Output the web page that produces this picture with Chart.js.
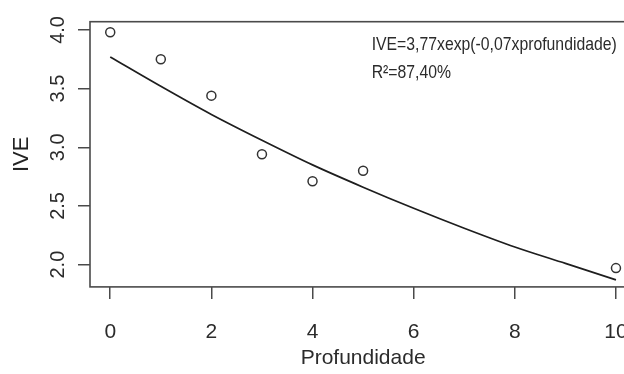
<!DOCTYPE html>
<html><head><meta charset="utf-8">
<script src="https://cdn.jsdelivr.net/npm/chart.js@4.4.1/dist/chart.umd.min.js"></script>
<style>
html,body{margin:0;padding:0;background:#fff;overflow:hidden}
#wrap{width:624px;height:374px;overflow:hidden;position:relative;background:#fff}
canvas{display:block}
</style></head><body>
<div id="wrap"><canvas id="c" width="660" height="374" style="width:660px;height:374px"></canvas></div>
<script>
// Observed points
const profundidade = [0, 1, 2, 3, 4, 5, 10];
const ive = [3.98, 3.75, 3.44, 2.94, 2.71, 2.80, 1.97];
// Fitted curve
const curveX = [0, 1, 2, 3, 4, 5, 6, 7, 8, 9, 10];
const curveY = [3.77, 3.52, 3.28, 3.06, 2.85, 2.66, 2.48, 2.31, 2.15, 2.01, 1.87];
// Tick labels
const xTicks = [0, 2, 4, 6, 8, 10];
const yTicks = [2.0, 2.5, 3.0, 3.5, 4.0];
// Texts
const xTitle = 'Profundidade';
const yTitle = 'IVE';
const eqLines = ['IVE=3,77xexp(-0,07xprofundidade)', 'R²=87,40%'];

const SANS = '"Liberation Sans", Arial, sans-serif';
const INK = '#2b2b2b';
const AXIS = '#4a4a4a';

const boxPlugin = {
  id: 'box',
  afterDatasetsDraw(chart) {
    const a = chart.chartArea, ctx = chart.ctx;
    ctx.save();
    ctx.strokeStyle = AXIS;
    ctx.lineWidth = 1.6;
    ctx.strokeRect(a.left, a.top, a.right - a.left, a.bottom - a.top);
    ctx.restore();
  }
};

const eqPlugin = {
  id: 'eq',
  afterDraw(chart) {
    const ctx = chart.ctx, xs = chart.scales.x, ys = chart.scales.y;
    const x0 = xs.getPixelForValue(5.17);
    const ya = [ys.getPixelForValue(3.833), ys.getPixelForValue(3.588)];
    ctx.save();
    ctx.fillStyle = INK;
    ctx.font = '19px ' + SANS;
    ctx.textBaseline = 'alphabetic';
    ctx.textAlign = 'left';
    eqLines.forEach((t, i) => {
      ctx.save();
      ctx.translate(x0, ya[i]);
      ctx.scale(0.83, 1);
      ctx.fillText(t, 0, 0);
      ctx.restore();
    });
    ctx.restore();
  }
};

new Chart(document.getElementById('c'), {
  type: 'scatter',
  data: {
    datasets: [
      {
        label: 'IVE',
        data: profundidade.map((p, i) => ({x: p, y: ive[i]})),
        pointStyle: 'circle',
        pointRadius: 4.5,
        pointBorderWidth: 1.5,
        pointBackgroundColor: 'rgba(0,0,0,0)',
        pointBorderColor: '#333',
        showLine: false,
        order: 1
      },
      {
        label: 'ajuste',
        data: curveX.map((p, i) => ({x: p, y: curveY[i]})),
        showLine: true,
        pointRadius: 0,
        borderColor: '#1e1e1e',
        borderWidth: 1.7,
        cubicInterpolationMode: 'monotone',
        fill: false,
        order: 2
      }
    ]
  },
  options: {
    responsive: false,
    animation: false,
    devicePixelRatio: 1,
    layout: { padding: { left: 8.3, right: 23.8, top: 21.7, bottom: 0 } },
    plugins: { legend: { display: false }, tooltip: { enabled: false } },
    scales: {
      x: {
        type: 'linear',
        min: -0.4,
        max: 10.4,
        afterBuildTicks: s => { s.ticks = xTicks.map(v => ({value: v})); },
        border: { display: false },
        grid: { display: true, drawOnChartArea: false, drawTicks: true, tickLength: 12, color: AXIS, lineWidth: 1.5 },
        ticks: { color: INK, font: { family: SANS, size: 21 }, padding: 21, maxRotation: 0, autoSkip: false, callback: v => String(v) },
        title: { display: true, text: xTitle, color: INK, font: { family: SANS, size: 21 }, padding: { top: -20.3, bottom: 3 } }
      },
      y: {
        type: 'linear',
        min: 1.81,
        max: 4.07,
        afterBuildTicks: s => { s.ticks = yTicks.map(v => ({value: v})); },
        border: { display: false },
        grid: { display: true, drawOnChartArea: false, drawTicks: true, tickLength: 12, color: AXIS, lineWidth: 1.5 },
        ticks: { color: INK, font: { family: SANS, size: 20 }, padding: 6, minRotation: 90, maxRotation: 90, crossAlign: 'center', autoSkip: false, callback: v => Number(v).toFixed(1) },
        title: { display: true, text: yTitle, color: '#222', font: { family: SANS, size: 22 }, padding: { top: 0, bottom: 7.3 } }
      }
    }
  },
  plugins: [boxPlugin, eqPlugin]
});
</script>
</body></html>
